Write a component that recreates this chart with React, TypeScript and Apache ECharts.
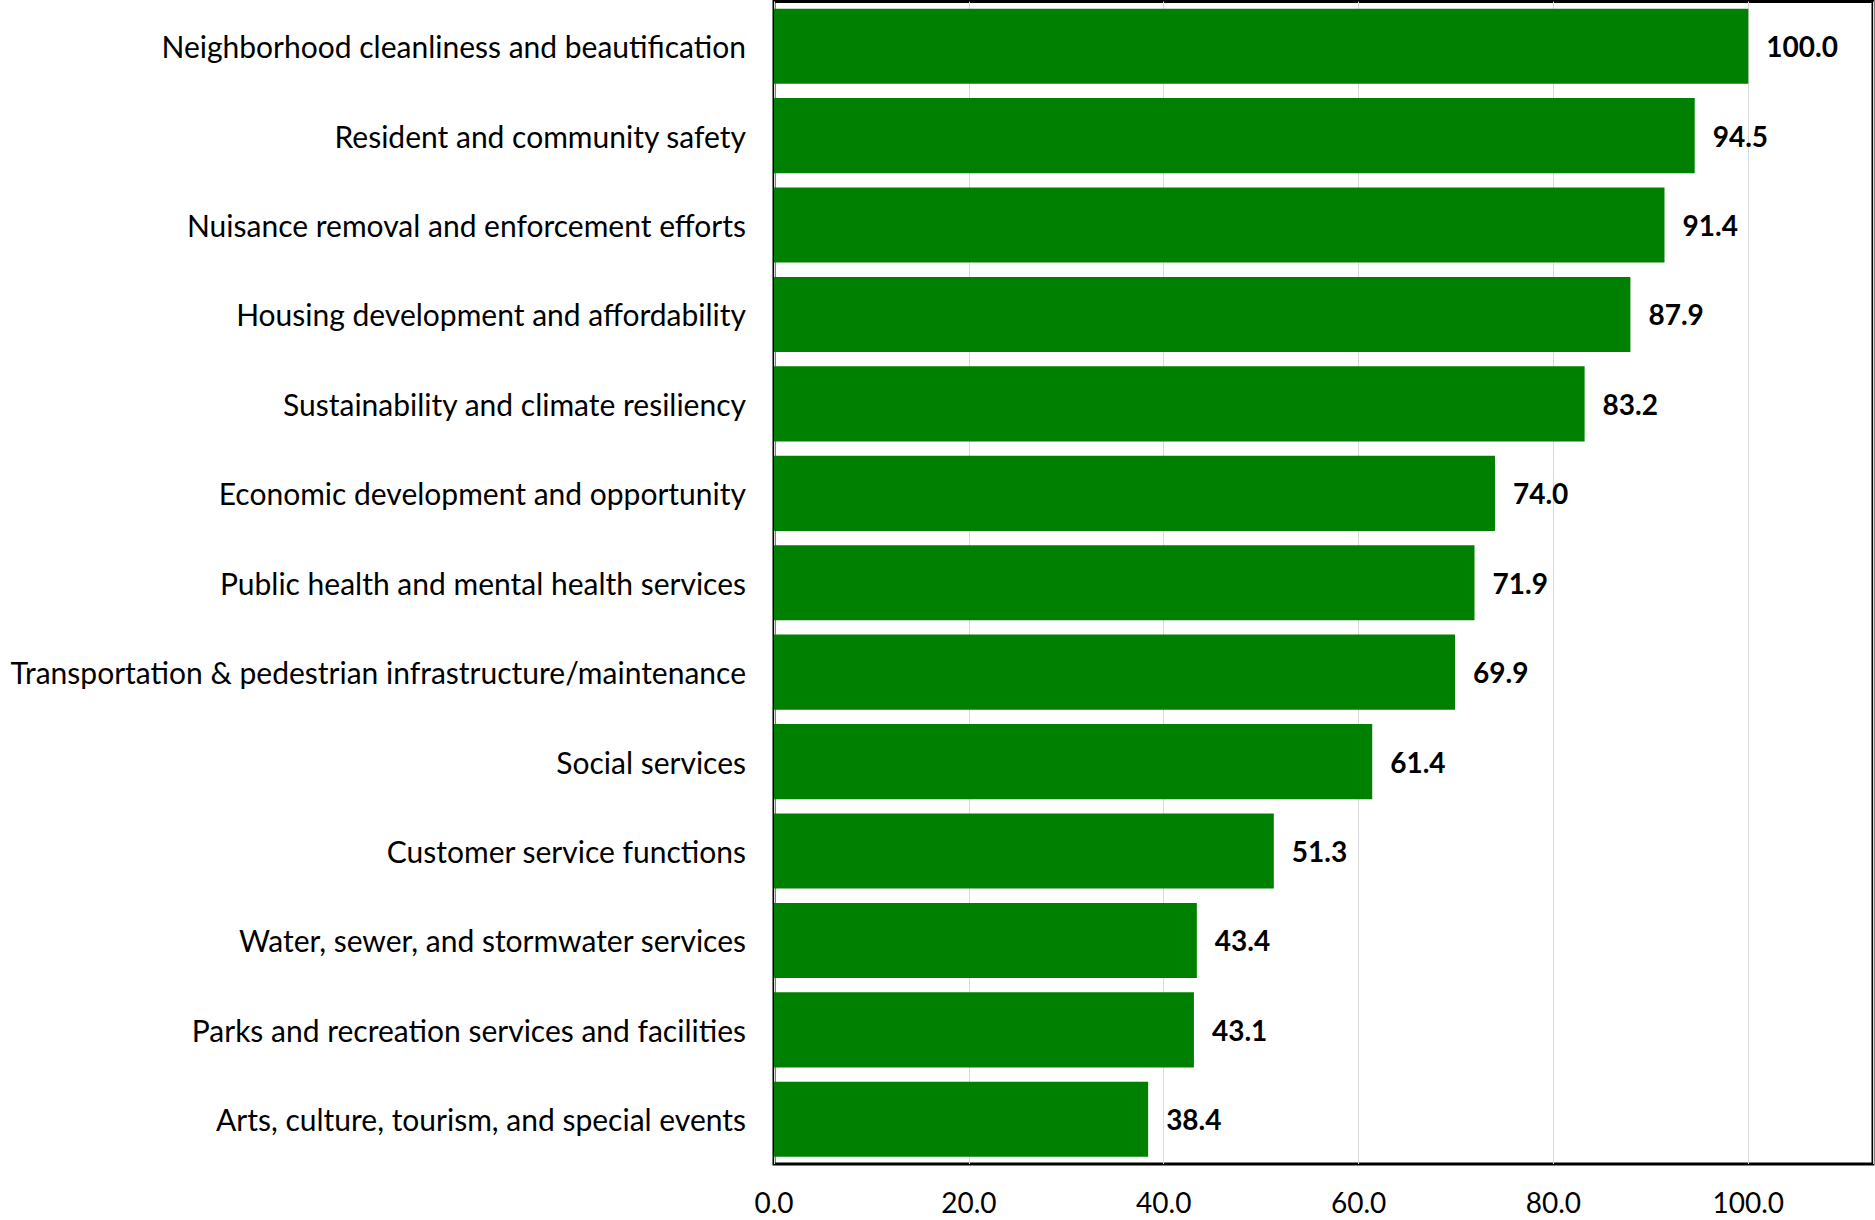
import React, { useEffect, useRef } from "react";
import * as echarts from "echarts";

const categories: string[] = [
  "Neighborhood cleanliness and beautification",
  "Resident and community safety",
  "Nuisance removal and enforcement efforts",
  "Housing development and affordability",
  "Sustainability and climate resiliency",
  "Economic development and opportunity",
  "Public health and mental health services",
  "Transportation & pedestrian infrastructure/maintenance",
  "Social services",
  "Customer service functions",
  "Water, sewer, and stormwater services",
  "Parks and recreation services and facilities",
  "Arts, culture, tourism, and special events",
];

const values: number[] = [100.0, 94.5, 91.4, 87.9, 83.2, 74.0, 71.9, 69.9, 61.4, 51.3, 43.4, 43.1, 38.4];

const xMin = 0;
const xMax = 112.8;
const xInterval = 20;

export default function App() {
  const ref = useRef<HTMLDivElement>(null);
  useEffect(() => {
    if (!ref.current) return;
    const chart = echarts.init(ref.current, undefined, { renderer: "svg" });
    const font = "Lato, 'Open Sans', sans-serif";
    chart.setOption({
      animation: false,
      backgroundColor: "#ffffff",
      grid: {
        show: true,
        left: 774,
        right: 2,
        top: 1.5,
        bottom: 56,
        borderColor: "#000000",
        borderWidth: 3,
        backgroundColor: "transparent",
        containLabel: false,
      },
      xAxis: {
        type: "value",
        min: xMin,
        max: xMax,
        interval: xInterval,
        axisLine: { show: false },
        axisTick: { show: false },
        splitLine: { show: true, lineStyle: { color: "#d9d9d9", width: 1 } },
        axisLabel: {
          showMaxLabel: false,
          color: "#000000",
          fontFamily: font,
          fontSize: 28,
          margin: 24,
          formatter: (v: number) => (v % xInterval === 0 ? v.toFixed(1) : ""),
        },
      },
      yAxis: {
        type: "category",
        inverse: true,
        data: categories,
        axisLine: { show: false },
        axisTick: { show: false },
        splitLine: { show: false },
        axisLabel: {
          color: "#000000",
          fontFamily: font,
          fontSize: 30,
          margin: 28,
        },
      },
      series: [
        {
          type: "bar",
          data: values,
          barCategoryGap: "16%",
          itemStyle: { color: "#008000" },
          label: {
            show: true,
            position: "right",
            distance: 18,
            color: "#000000",
            fontFamily: font,
            fontWeight: "bold",
            fontSize: 28,
            formatter: (p: any) => Number(p.value).toFixed(1),
          },
        },
      ],
    });
    return () => chart.dispose();
  }, []);
  return (
    <div
      ref={ref}
      style={{ position: "fixed", left: 0, top: 0, width: 1875, height: 1220 }}
    />
  );
}
